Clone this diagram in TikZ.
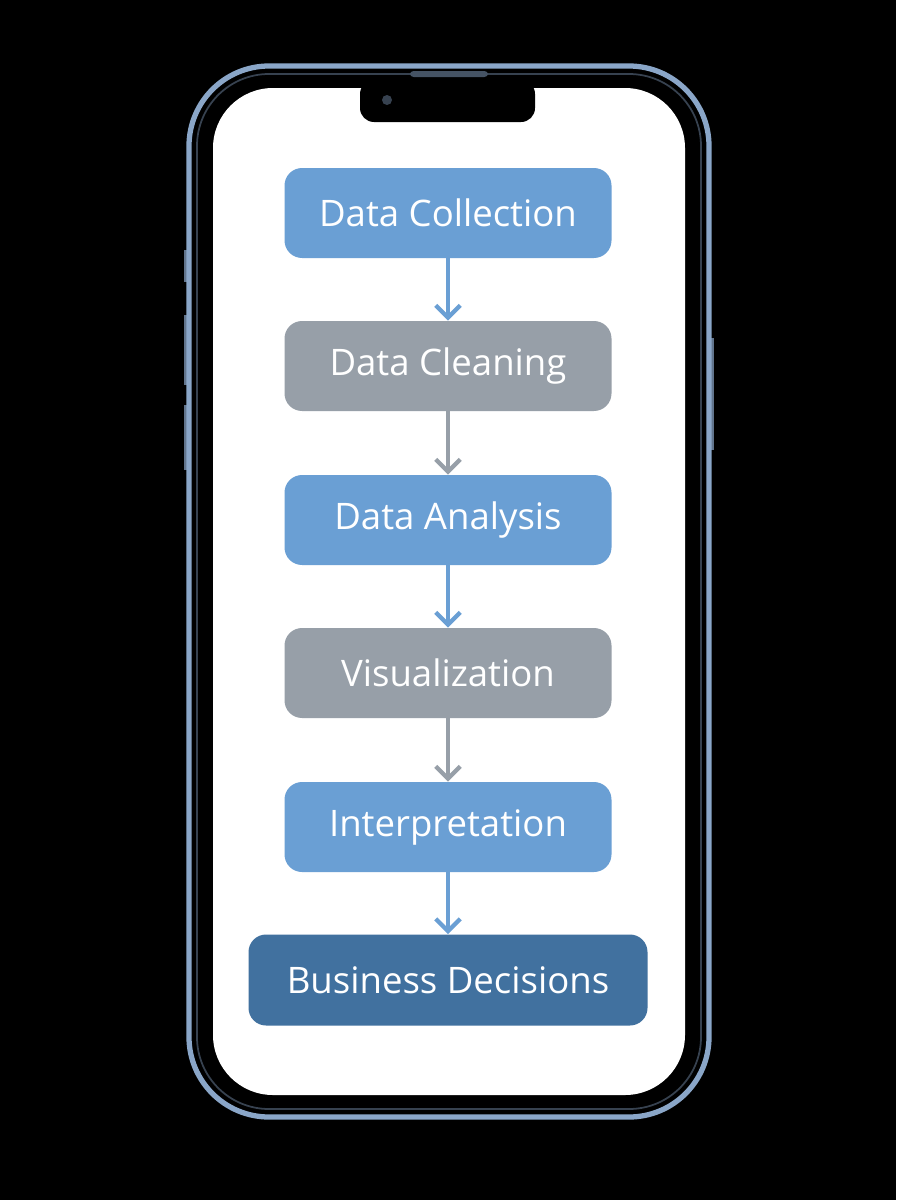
\documentclass[tikz,border=0pt]{standalone}
\usepackage{fontspec}
\setmainfont{Open Sans}
\usetikzlibrary{arrows.meta}
\definecolor{bblue}{HTML}{6A9FD4}
\definecolor{bgray}{HTML}{979FA8}
\definecolor{bdark}{HTML}{41719F}
\definecolor{frame}{HTML}{8AA6C8}
\begin{document}
\begin{tikzpicture}[x=0.02cm,y=-0.02cm,
 box/.style={rounded corners=10pt,minimum width=327*0.02cm,minimum height=90*0.02cm,text=white,font=\fontsize{20.8}{24}\selectfont,inner sep=0pt},
 arr/.style={line width=2.4pt,-{Straight Barb[length=7pt,width=14pt,line width=2.4pt]}}]
\useasboundingbox (0,0) rectangle (896,1200);
\fill[black] (0,0) rectangle (896,1200);
% side buttons
\foreach \a/\b in {250/282,315/385,405/470} \fill[frame!70!black] (184,\a) rectangle (190,\b);
\fill[frame!70!black] (708,338) rectangle (714,450);
% phone body
\draw[frame,line width=3pt,fill=black,rounded corners=80*0.02cm] (189,66) rectangle (709,1117);
\draw[frame!40!black,line width=1pt,rounded corners=72*0.02cm] (197,74) rectangle (701,1109);
\fill[white,rounded corners=60*0.02cm] (213,88) rectangle (685,1095);
% notch
\fill[black,rounded corners=14*0.02cm] (360,80) -- (360,122) -- (535,122) -- (535,80) -- cycle;
\fill[frame!40!black] (387,100) circle (5);
\fill[frame!50!black,rounded corners=2pt] (410,71) rectangle (488,77);
% boxes
\node[box,fill=bblue] (n1) at (448,213) {Data Collection};
\node[box,fill=bgray] (n2) at (448,366) {Data Cleaning};
\node[box,fill=bblue] (n3) at (448,520) {Data Analysis};
\node[box,fill=bgray] (n4) at (448,673) {Visualization};
\node[box,fill=bblue] (n5) at (448,827) {Interpretation};
\node[box,fill=bdark,minimum width=399*0.02cm,minimum height=91*0.02cm] (n6) at (448,980) {Business Decisions};
\draw[arr,bblue] (n1) -- (n2);
\draw[arr,bgray] (n2) -- (n3);
\draw[arr,bblue] (n3) -- (n4);
\draw[arr,bgray] (n4) -- (n5);
\draw[arr,bblue] (n5) -- (n6);
\end{tikzpicture}
\end{document}
